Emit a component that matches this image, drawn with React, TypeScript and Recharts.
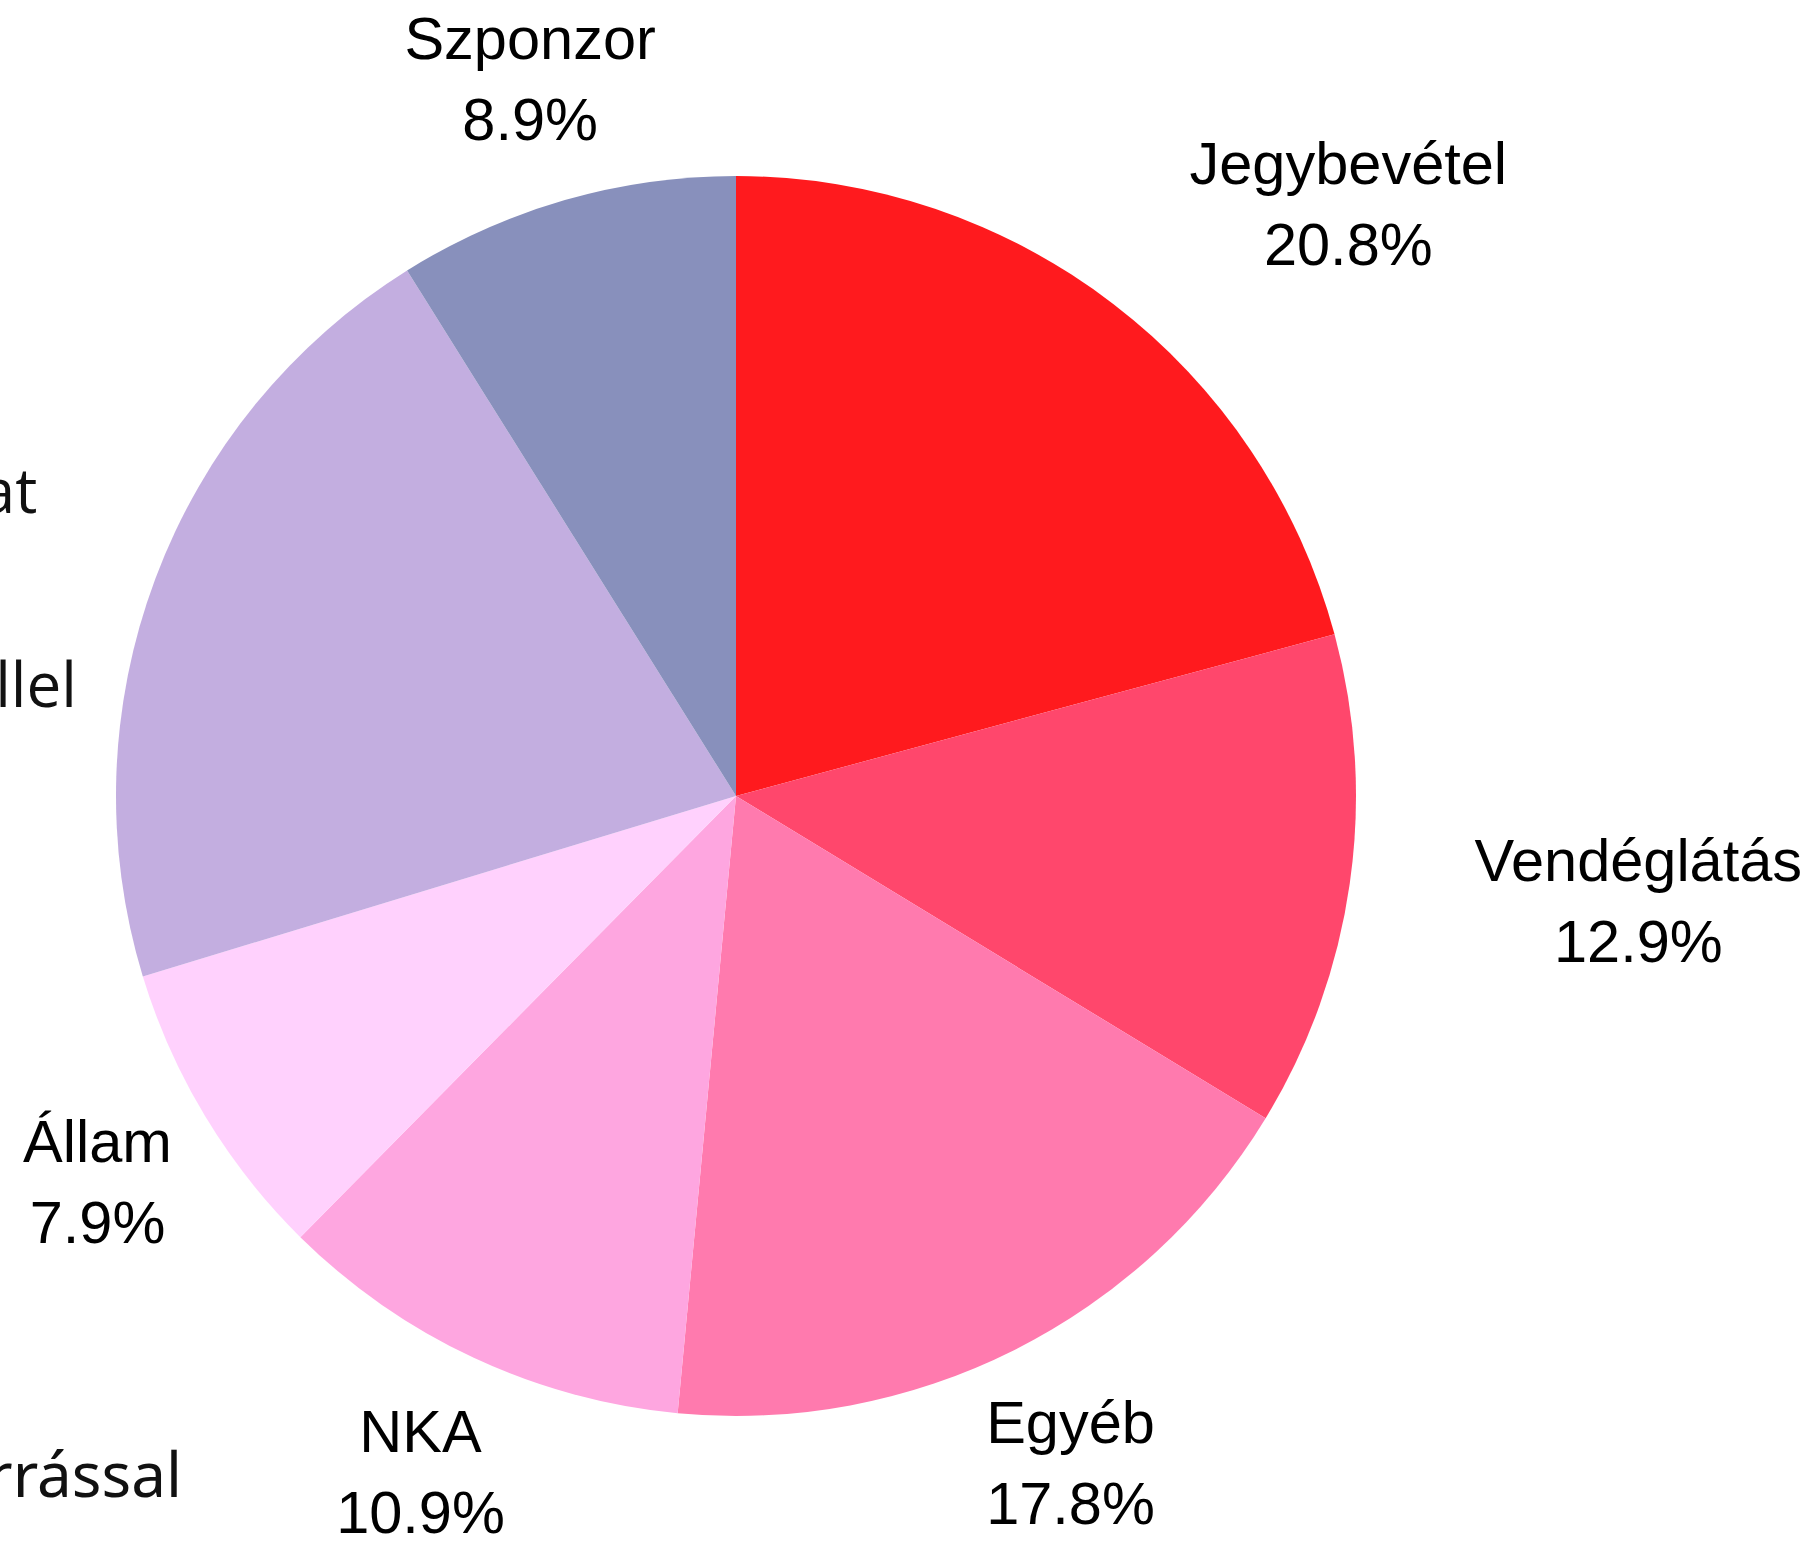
import { Cell, Pie, PieChart } from "recharts";

const NAMES = [
  "Jegybevétel",
  "Vendéglátás",
  "Egyéb",
  "NKA",
  "Állam",
  "Önkormányzat",
  "Szponzor",
];
const SHARES = [20.8, 12.9, 17.8, 10.9, 7.9, 20.8, 8.9];
const COLORS = [
  "#ff1a1e",
  "#ff476c",
  "#ff7aae",
  "#fea6e0",
  "#ffd1fd",
  "#c3aee0",
  "#8890bc",
];

// stray text fragments cut off at the left edge of the picture
const FRAGMENTS = [
  { text: "llel", x: 77, y: 707, font: "'Open Sans', sans-serif" },
  { text: "rrással", x: 182, y: 1497, font: "'Noto Sans', sans-serif" },
];

// labels on the right start at the anchor point, the rest are centred on it
const LABEL_ANCHOR: Record<string, "start" | "middle" | "end"> = {
  Jegybevétel: "start",
  Vendéglátás: "start",
  Önkormányzat: "end",
};

const W = 1817;
const H = 1543;
const RADIAN = Math.PI / 180;
const FONT = "'Liberation Sans', Arial, sans-serif";
const FONT_SIZE = 59.5;

const data = NAMES.map((name, i) => ({ name, value: SHARES[i] }));

let measureCtx: CanvasRenderingContext2D | null = null;
function textWidth(s: string) {
  if (!measureCtx) {
    measureCtx = document.createElement("canvas").getContext("2d");
  }
  if (!measureCtx) return s.length * FONT_SIZE * 0.55;
  measureCtx.font = `${FONT_SIZE}px ${FONT}`;
  return measureCtx.measureText(s).width;
}

function renderLabel(props: any) {
  const { cx, cy, midAngle, outerRadius, name, value } = props;
  const r = outerRadius + 126;
  const x = cx + r * Math.cos(-midAngle * RADIAN);
  const y = cy + r * Math.sin(-midAngle * RADIAN);
  const anchor = LABEL_ANCHOR[name] ?? "middle";

  if (name === "Önkormányzat") {
    return (
      <text
        x={x}
        y={y - 22}
        textAnchor="end"
        fontFamily="'Open Sans', sans-serif"
        fontSize={62}
        fill="#111"
      >
        {name}
      </text>
    );
  }

  const pct = `${value.toFixed(1)}%`;
  let mx = x;
  if (anchor === "start") {
    mx = x + Math.max(textWidth(name), textWidth(pct)) / 2;
  }

  return (
    <text fontFamily={FONT} fontSize={FONT_SIZE} fill="#000" textAnchor="middle">
      <tspan x={mx} y={y - 20}>
        {name}
      </tspan>
      <tspan x={mx} y={y + 61}>
        {pct}
      </tspan>
    </text>
  );
}

export default function App() {
  return (
    <div
      style={{
        position: "absolute",
        left: 0,
        top: 0,
        width: W,
        height: H,
        background: "#fff",
        overflow: "hidden",
      }}
    >
      <PieChart width={W} height={H} margin={{ top: 0, right: 0, bottom: 0, left: 0 }}>
        <Pie
          data={data}
          dataKey="value"
          nameKey="name"
          cx={736}
          cy={796}
          outerRadius={620}
          startAngle={90}
          endAngle={-270}
          stroke="none"
          label={renderLabel}
          labelLine={false}
          isAnimationActive={false}
        >
          {data.map((d, i) => (
            <Cell key={d.name} fill={COLORS[i]} />
          ))}
        </Pie>
      </PieChart>
      <svg
        width={W}
        height={H}
        style={{ position: "absolute", left: 0, top: 0, pointerEvents: "none" }}
      >
        {FRAGMENTS.map((f) => (
          <text
            key={f.text}
            x={f.x}
            y={f.y}
            textAnchor="end"
            fontFamily={f.font}
            fontSize={62}
            fill="#111"
          >
            {f.text}
          </text>
        ))}
      </svg>
    </div>
  );
}
